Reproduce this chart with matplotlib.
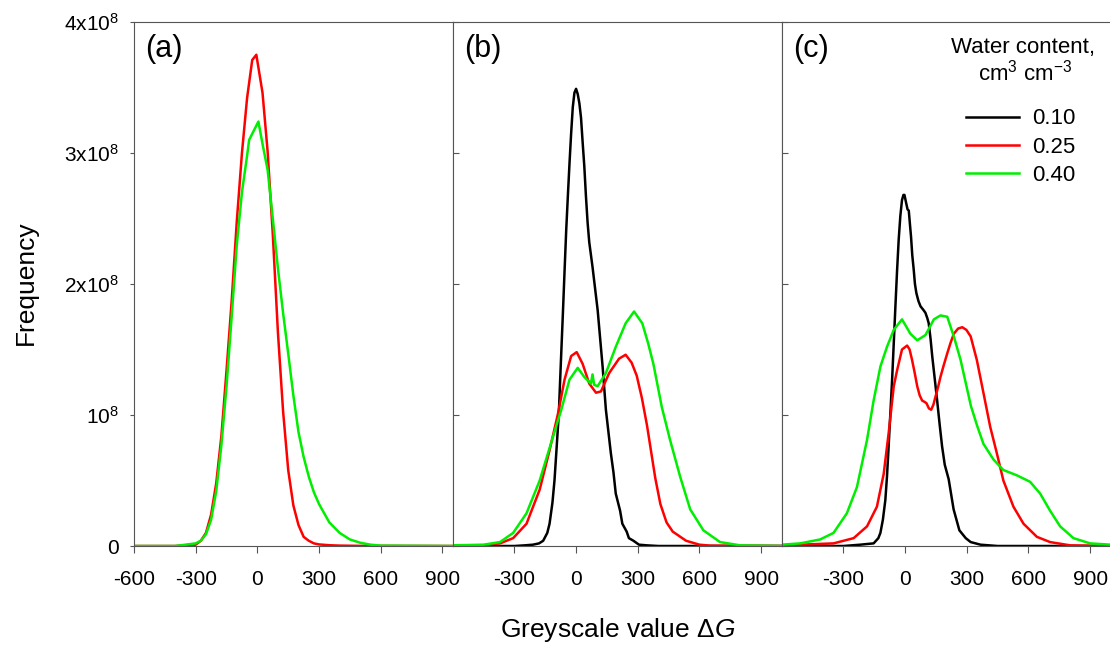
import matplotlib
matplotlib.use('Agg')
import matplotlib.pyplot as plt
from matplotlib.lines import Line2D

plt.rcParams['font.family'] = ['Liberation Sans', 'DejaVu Sans']
plt.rcParams['mathtext.fontset'] = 'custom'
plt.rcParams['mathtext.rm'] = 'Liberation Sans'
plt.rcParams['mathtext.it'] = 'Liberation Sans:italic'
plt.rcParams['axes.unicode_minus'] = False

SCALE = 1e8  # frequencies below are in units of 10^8

# (a) water content 0.25 / 0.40
xa_25 = [-600, -400, -300, -275, -250, -225, -200, -175, -150, -125, -100, -75, -50, -25, -5,
         25, 50, 75, 100, 125, 150, 175, 200, 225, 250, 275, 300, 350, 400, 500, 950]
ya_25 = [0, 0, 0.01, 0.04, 0.10, 0.24, 0.48, 0.84, 1.34, 1.87, 2.48, 3.00, 3.42, 3.71, 3.75,
         3.46, 3.01, 2.38, 1.63, 1.03, 0.58, 0.31, 0.16, 0.07, 0.04, 0.02, 0.012, 0.006, 0.003, 0.001, 0]

xa_40 = [-600, -400, -300, -275, -250, -225, -200, -175, -150, -125, -100, -75, -50, -40, 5,
         25, 50, 75, 100, 125, 150, 175, 200, 225, 250, 275, 300, 350, 400, 450, 500, 550, 600, 950]
ya_40 = [0, 0, 0.02, 0.04, 0.09, 0.20, 0.42, 0.77, 1.22, 1.75, 2.30, 2.70, 2.98, 3.10, 3.24,
         3.07, 2.87, 2.50, 2.12, 1.78, 1.47, 1.15, 0.87, 0.68, 0.53, 0.41, 0.32, 0.18, 0.10, 0.05,
         0.025, 0.01, 0.003, 0]

# (b)
xb_10 = [-600, -300, -250, -210, -180, -160, -140, -129, -115, -105, -95, -84, -74, -64, -56, -48,
         -40, -32, -24, -16, -8, 0, 8, 16, 24, 32, 40, 48, 56, 64, 80, 105, 129, 145, 169, 182, 193,
         214, 225, 246, 257, 279, 306, 344, 400, 1000]
yb_10 = [0, 0, 0.005, 0.01, 0.02, 0.04, 0.10, 0.17, 0.33, 0.50, 0.74, 1.01, 1.40, 1.78, 2.10, 2.41,
         2.67, 2.92, 3.15, 3.35, 3.46, 3.49, 3.45, 3.38, 3.27, 3.08, 2.90, 2.67, 2.47, 2.32, 2.13,
         1.80, 1.37, 1.04, 0.71, 0.56, 0.40, 0.27, 0.17, 0.11, 0.06, 0.04, 0.01, 0.005, 0, 0]

xb_25 = [-600, -450, -370, -306, -241, -177, -129, -88, -56, -24, 3, 32, 64, 97, 121, 161, 209,
         241, 270, 295, 320, 345, 365, 385, 410, 440, 470, 535, 600, 650, 1000]
yb_25 = [0, 0.005, 0.02, 0.06, 0.17, 0.43, 0.73, 1.01, 1.27, 1.45, 1.48, 1.39, 1.24, 1.17, 1.18,
         1.32, 1.43, 1.46, 1.40, 1.30, 1.13, 0.92, 0.72, 0.52, 0.32, 0.18, 0.11, 0.04, 0.01, 0.003, 0]

xb_40 = [-600, -450, -370, -306, -241, -177, -113, -72, -32, 8, 40, 72, 80, 88, 105, 145, 193,
         241, 282, 322, 350, 376, 417, 457, 506, 555, 619, 700, 798, 1000]
yb_40 = [0.005, 0.01, 0.03, 0.10, 0.25, 0.50, 0.83, 1.04, 1.27, 1.36, 1.29, 1.24, 1.31, 1.23, 1.22,
         1.32, 1.52, 1.70, 1.79, 1.70, 1.55, 1.39, 1.06, 0.81, 0.53, 0.28, 0.12, 0.03, 0.005, 0]

# (c)
xc_10 = [-600, -300, -218, -153, -130, -120, -108, -96, -88, -80, -72, -63, -55, -47, -39, -31,
         -23, -15, -8, -3, 5, 12, 18, 24, 29, 35, 42, 48, 55, 65, 75, 90, 99, 108, 115, 124, 132,
         144, 156, 168, 180, 193, 212, 236, 264, 295, 319, 367, 450, 1000]
yc_10 = [0, 0, 0.01, 0.02, 0.06, 0.10, 0.20, 0.35, 0.53, 0.76, 1.00, 1.27, 1.55, 1.83, 2.10, 2.34,
         2.52, 2.64, 2.68, 2.68, 2.62, 2.57, 2.56, 2.45, 2.36, 2.22, 2.11, 2.00, 1.93, 1.87, 1.83,
         1.80, 1.78, 1.74, 1.70, 1.58, 1.45, 1.28, 1.11, 0.93, 0.76, 0.62, 0.51, 0.28, 0.12, 0.06,
         0.03, 0.01, 0, 0]

xc_25 = [-600, -510, -348, -250, -185, -137, -104, -80, -55, -39, -15, 10, 22, 34, 47, 59, 71, 83,
         95, 104, 116, 127, 138, 148, 160, 172, 188, 205, 221, 237, 258, 278, 298, 319, 349, 381,
         414, 446, 478, 527, 576, 641, 705, 803, 1000]
yc_25 = [0.005, 0.01, 0.02, 0.06, 0.15, 0.30, 0.55, 0.86, 1.22, 1.34, 1.50, 1.53, 1.50, 1.42, 1.32,
         1.22, 1.15, 1.11, 1.10, 1.09, 1.05, 1.04, 1.08, 1.14, 1.21, 1.29, 1.38, 1.47, 1.55, 1.62,
         1.66, 1.67, 1.65, 1.60, 1.42, 1.17, 0.91, 0.71, 0.50, 0.30, 0.17, 0.07, 0.03, 0.005, 0]

xc_40 = [-600, -510, -413, -348, -283, -234, -185, -153, -120, -88, -55, -15, 26, 59, 99, 140, 172,
         205, 237, 270, 290, 320, 350, 381, 430, 478, 543, 608, 657, 705, 754, 819, 900, 1000]
yc_40 = [0.01, 0.02, 0.05, 0.10, 0.25, 0.45, 0.81, 1.11, 1.37, 1.52, 1.65, 1.73, 1.62, 1.57, 1.61,
         1.73, 1.76, 1.75, 1.60, 1.42, 1.28, 1.07, 0.92, 0.78, 0.66, 0.58, 0.54, 0.49, 0.40, 0.27,
         0.15, 0.06, 0.02, 0.01]

water = ['0.10', '0.25', '0.40']
colors = {'0.10': 'black', '0.25': '#ff0000', '0.40': '#00ee00'}

panels = [
    ('(a)', (-600, 950), [-600, -300, 0, 300, 600, 900],
     [('0.25', xa_25, ya_25), ('0.40', xa_40, ya_40)]),
    ('(b)', (-600, 1000), [-300, 0, 300, 600, 900],
     [('0.10', xb_10, yb_10), ('0.25', xb_25, yb_25), ('0.40', xb_40, yb_40)]),
    ('(c)', (-600, 1000), [-300, 0, 300, 600, 900],
     [('0.10', xc_10, yc_10), ('0.25', xc_25, yc_25), ('0.40', xc_40, yc_40)]),
]

yticks = [0, 1, 2, 3, 4]
ytick_labels = ['0', '10$^8$', '2x10$^8$', '3x10$^8$', '4x10$^8$']

W, H = 1110, 646
fig = plt.figure(figsize=(W / 100, H / 100), dpi=100)

spine_col = '#555555'
lefts = [134, 452.7, 781.7]
widths = [318.7, 329, 329]

for i, (tag, xlim, xticks, series) in enumerate(panels):
    ax = fig.add_axes([lefts[i] / W, 100 / H, widths[i] / W, 524 / H])
    for key, xs, ys in series:
        ax.plot(xs, [v * SCALE for v in ys], color=colors[key], lw=1.8,
                solid_joinstyle='round')
    ax.set_xlim(*xlim)
    ax.set_ylim(0, 4 * SCALE)
    ax.set_xticks(xticks)
    ax.set_xticklabels([str(t) for t in xticks])
    ax.set_yticks([t * SCALE for t in yticks])
    for s in ax.spines.values():
        s.set_color(spine_col)
        s.set_linewidth(0.8)
    ax.tick_params(axis='x', direction='out', length=5, width=0.8, color=spine_col,
                   labelsize=15, pad=12)
    if i == 0:
        ax.set_yticklabels(ytick_labels)
        ax.tick_params(axis='y', direction='out', length=3, width=0.8, color=spine_col,
                       labelsize=15, pad=8)
    else:
        ax.set_yticklabels([])
        ax.tick_params(axis='y', direction='in', length=4, width=0.8, color=spine_col)
    ax.annotate(tag, xy=(0, 1), xycoords='axes fraction', xytext=(11, -27),
                textcoords='offset pixels', ha='left', va='center', fontsize=22)

# legend title as two centred lines, entries underneath
fig.text(1023 / W, 1 - 53 / H, 'Water content,', ha='center', va='baseline', fontsize=16)
fig.text(1025 / W, 1 - 81 / H, 'cm$^3$ cm$^{-3}$', ha='center', va='baseline', fontsize=16)

handles = [Line2D([], [], color=colors[k], lw=1.8) for k in water]
leg = fig.legend(handles, water, loc='upper left', bbox_to_anchor=(965.7 / W, 1 - 108.5 / H),
                 frameon=False, fontsize=16, handlelength=2.4, handletextpad=0.57,
                 labelspacing=0.33, borderpad=0, borderaxespad=0)

fig.text(26 / W, 1 - 283 / H, 'Frequency', rotation=90, ha='center', va='center', fontsize=19)
fig.text(618 / W, 1 - 630 / H, 'Greyscale value Δ$G$', ha='center', va='center', fontsize=19)

fig.savefig('out.png', dpi=100)
